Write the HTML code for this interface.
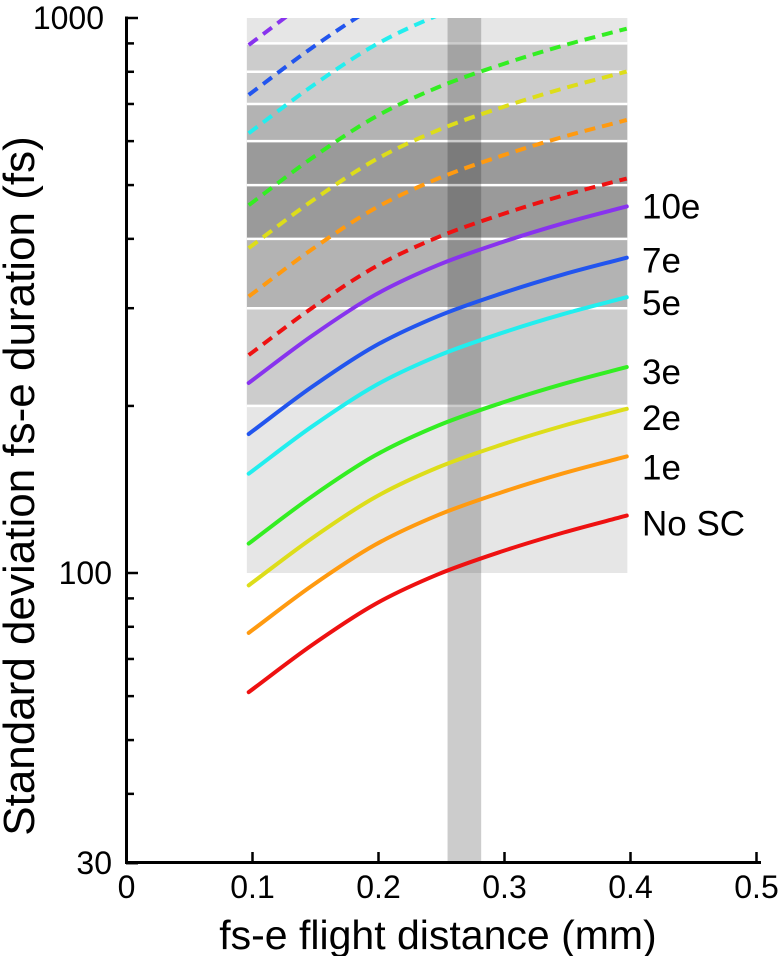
<!DOCTYPE html>
<html><head><meta charset="utf-8"><style>
html,body{margin:0;padding:0;background:#fff;}
svg{display:block;font-family:"Liberation Sans",Arial,sans-serif;}
</style></head><body>
<svg id="chart" width="780" height="956" viewBox="0 0 780 956">
<defs><clipPath id="plotclip"><rect x="126" y="18" width="640" height="845"/></clipPath></defs>
<g id="bands"></g>
<g id="vband"></g>
<g id="curves" clip-path="url(#plotclip)"></g>
<g id="labels"></g>
<g id="axes"></g>
<text x="438" y="949" text-anchor="middle" font-size="41">fs-e flight distance (mm)</text>
<text transform="translate(34,486) rotate(-90)" text-anchor="middle" font-size="44">Standard deviation fs-e duration (fs)</text>
</svg>
<script>
const xs = [0.097, 0.147, 0.197, 0.247, 0.297, 0.347, 0.397];
const seriesNames = ["No SC","1e","2e","3e","5e","7e","10e"];
const sNoSC = [61, 74.1, 87.8, 99.4, 109.2, 118.3, 126.9];
const s1e = [78, 94.8, 112.3, 127.1, 139.6, 151.3, 162.2];
const s2e = [95, 115.4, 136.8, 154.9, 170.1, 184.3, 197.6];
const s3e = [113, 137.3, 162.7, 184.2, 202.3, 219.2, 235];
const s5e = [151, 183.5, 217.4, 246.1, 270.3, 292.9, 314];
const s7e = [178, 216.3, 256.3, 290.1, 318.6, 345.3, 370];
const s10e = [220, 267.3, 316.8, 358.6, 393.8, 426.8, 457.6];
const dRed = [247, 300, 355.7, 402.6, 442.1, 479.2, 513.8];
const dOrange = [315, 382.7, 453.6, 513.5, 563.9, 611.1, 655];
const dYellow = [385, 467.8, 554.4, 627.6, 689.2, 746.9, 800.8];
const dGreen = [460, 558.9, 662.4, 749.8, 823.4, 892.4, 956.8];
const dCyan = [620, 753, 893, 1011, 1110, 1203, 1290];
const dBlue = [727, 883, 1047, 1185, 1301, 1410, 1512];
const dPurple = [894, 1086, 1287, 1457, 1600, 1734, 1860];
const bandEdges = [100, 200, 300, 400, 500, 600, 700, 800, 900, 1000];
const bandFills = ["#e6e6e6","#cccccc","#b3b3b3","#9a9a9a","#9a9a9a","#b3b3b3","#cccccc","#cccccc","#e6e6e6"];
const xTicks = [0, 0.1, 0.2, 0.3, 0.4, 0.5];
const xTickLabels = ["0","0.1","0.2","0.3","0.4","0.5"];
const yMinor = [40,50,60,70,80,90,200,300,400,500,600,700,800,900];
const yMajor = [30, 100, 1000];

const NS="http://www.w3.org/2000/svg";
const X = v => 126.5 + v*1260;
const Y = v => 18 + (3 - Math.log10(v))*555;
function mk(tag, attrs, parent){const e=document.createElementNS(NS,tag);for(const k in attrs)e.setAttribute(k,attrs[k]);parent.appendChild(e);return e;}

const bands=document.getElementById('bands');
const rx0=X(0.0955), rx1=X(0.3975);
for(let i=0;i<bandFills.length;i++){
  const r=mk('rect',{x:rx0,y:Y(bandEdges[i+1]),width:rx1-rx0,height:Y(bandEdges[i])-Y(bandEdges[i+1]),fill:bandFills[i]},bands);
  
  
}
for(let i=1;i<bandEdges.length-1;i++){
  const l=mk('line',{x1:rx0,x2:rx1,y1:Y(bandEdges[i]),y2:Y(bandEdges[i]),stroke:'#fff','stroke-width':2.5},bands);
  
  
}
const vb=mk('rect',{x:X(0.2548),y:18,width:X(0.2815)-X(0.2548),height:845,fill:'rgba(0,0,0,0.2)'},document.getElementById('vband'));



function pathFor(vals){
  const p=xs.map((x,i)=>[X(x),Y(vals[i])]);
  let d='M'+p[0][0]+','+p[0][1];
  for(let i=0;i<p.length-1;i++){
    const p0=i>0?p[i-1]:[2*p[0][0]-p[1][0],2*p[0][1]-p[1][1]];
    const p1=p[i],p2=p[i+1];
    const p3=i+2<p.length?p[i+2]:[2*p2[0]-p1[0],2*p2[1]-p1[1]];
    const c1=[p1[0]+(p2[0]-p0[0])/6,p1[1]+(p2[1]-p0[1])/6];
    const c2=[p2[0]-(p3[0]-p1[0])/6,p2[1]-(p3[1]-p1[1])/6];
    d+=' C'+c1+' '+c2+' '+p2;
  }
  return d;
}
const curves=document.getElementById('curves');
const solid=[[sNoSC,'#ee1111','no-sc'],[s1e,'#ff9a10','1e'],[s2e,'#dddd1a','2e'],[s3e,'#33ee22','3e'],[s5e,'#22eeee','5e'],[s7e,'#2255ee','7e'],[s10e,'#8833ee','10e']];
const dashed=[[dRed,'#ee1111','red'],[dOrange,'#ff9a10','orange'],[dYellow,'#dddd1a','yellow'],[dGreen,'#33ee22','green'],[dCyan,'#22eeee','cyan'],[dBlue,'#2255ee','blue'],[dPurple,'#8833ee','purple']];
for(const [v,c,n] of dashed){
  const e=mk('path',{d:pathFor(v),fill:'none',stroke:c,'stroke-width':4,'stroke-dasharray':'11 7'},curves);
  
  
}
for(const [v,c,n] of solid){
  const e=mk('path',{d:pathFor(v),fill:'none',stroke:c,'stroke-width':4,'stroke-linecap':'round'},curves);
  
  
}

const labels=document.getElementById('labels');
const solidVals=[sNoSC,s1e,s2e,s3e,s5e,s7e,s10e];
const labelNudge=[20,23,21,17,18,15,12];
for(let i=0;i<seriesNames.length;i++){
  const v=solidVals[i][solidVals[i].length-1];
  const t=mk('text',{x:642,y:Y(v)+labelNudge[i],'font-size':35},labels);
  t.textContent=seriesNames[i];
  
  
}

const axes=document.getElementById('axes');
const ya=mk('line',{x1:126.5,x2:126.5,y1:16.5,y2:864,stroke:'#000','stroke-width':3},axes);


const xa=mk('line',{x1:125,x2:761,y1:862.5,y2:862.5,stroke:'#000','stroke-width':3},axes);


for(let i=0;i<xTicks.length;i++){
  const x=X(xTicks[i]);
  if(i>0){const tk=mk('line',{x1:x,x2:x,y1:862,y2:852,stroke:'#000','stroke-width':2.5},axes);
  
  }
  const t=mk('text',{x:x,y:898,'text-anchor':'middle','font-size':32},axes);
  t.textContent=xTickLabels[i];
  
  
}
for(const v of yMinor){
  const tk=mk('line',{x1:126,x2:134,y1:Y(v),y2:Y(v),stroke:'#000','stroke-width':2.5},axes);
  
  
}
for(const v of yMajor){
  const tk=mk('line',{x1:126,x2:138,y1:Y(v),y2:Y(v),stroke:'#000','stroke-width':2.5},axes);
  
  
  const t=mk('text',{x:v===1000?104:112,y:Math.min(Y(v)+11,875),'text-anchor':'end','font-size':32},axes);
  if(v===1000) t.setAttribute('y',29);
  t.textContent=String(v);
  
  
}
</script>
</body></html>
